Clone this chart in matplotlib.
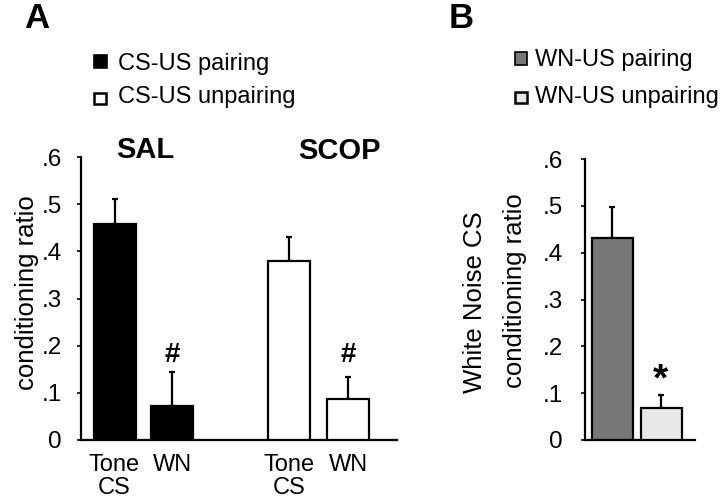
import matplotlib
matplotlib.use("Agg")
import matplotlib.pyplot as plt
from matplotlib.patches import Rectangle

plt.rcParams['font.family'] = ['Liberation Sans', 'DejaVu Sans']

# ---- data ----
a_labels = ["Tone\nCS", "WN", "Tone\nCS", "WN"]
a_values = [0.458, 0.072, 0.379, 0.087]
a_errors = [0.053, 0.072, 0.051, 0.046]
a_groups = ["SAL", "SCOP"]
a_legend = ["CS-US pairing", "CS-US unpairing"]

b_values = [0.431, 0.068]
b_errors = [0.067, 0.028]
b_legend = ["WN-US pairing", "WN-US unpairing"]

yticks = [0, 0.1, 0.2, 0.3, 0.4, 0.5, 0.6]
ytick_labels = ["0", ".1", ".2", ".3", ".4", ".5", ".6"]

W, H = 720, 501
fig = plt.figure(figsize=(7.2, 5.01), dpi=100)

def fx(px):
    return px / W

def fy(py):
    return 1 - py / H

def style_axis(ax, pad):
    for s in ['top', 'right']:
        ax.spines[s].set_visible(False)
    ax.spines['left'].set_linewidth(1.6)
    ax.spines['bottom'].set_linewidth(1.6)
    ax.set_ylim(0, 0.6)
    ax.set_yticks(yticks)
    ax.set_yticklabels(ytick_labels, fontsize=17.5)
    ax.tick_params(axis='y', length=3, width=1.2, pad=pad)
    ax.tick_params(axis='x', length=0, pad=10, labelsize=17)

# ---- Panel A ----
axA = fig.add_axes([fx(81), fy(440), fx(397 - 81), (440 - 157) / H])
posA = [0, 1, 3.04, 4.06]
colorsA = ['black', 'black', 'white', 'white']
axA.bar(posA, a_values, width=0.73, color=colorsA, edgecolor='black', linewidth=1.6, zorder=3)
axA.errorbar(posA, a_values, yerr=[[0] * 4, a_errors], fmt='none', ecolor='black',
             elinewidth=1.6, capsize=2, capthick=1.6, zorder=2)
axA.set_xlim(-0.583, 4.913)
style_axis(axA, 11)
axA.set_xticks(posA)
axA.set_xticklabels(a_labels, linespacing=1.05)
fig.text(fx(172), fy(355), "#", fontsize=20, fontweight='bold', ha='center', va='center')
fig.text(fx(348), fy(355), "#", fontsize=20, fontweight='bold', ha='center', va='center')
fig.text(fx(145), fy(150), a_groups[0], fontsize=21, fontweight='bold', ha='center', va='center')
fig.text(fx(339), fy(151), a_groups[1], fontsize=21, fontweight='bold', ha='center', va='center')
fig.text(fx(27), fy(293), "conditioning ratio", fontsize=18.5, rotation=90, ha='center', va='center')

# Panel A legend
fig.add_artist(Rectangle((fx(94), fy(68)), fx(13), 13 / H, transform=fig.transFigure,
                         facecolor='black', edgecolor='black', linewidth=1.2))
fig.add_artist(Rectangle((fx(94), fy(104)), fx(12), 11 / H, transform=fig.transFigure,
                         facecolor='white', edgecolor='black', linewidth=1.8))
fig.text(fx(118), fy(64), a_legend[0], fontsize=17, ha='left', va='center')
fig.text(fx(118), fy(97), a_legend[1], fontsize=17, ha='left', va='center')
fig.text(fx(24), fy(19), "A", fontsize=25, fontweight='bold', ha='left', va='center')

# ---- Panel B ----
axB = fig.add_axes([fx(585), fy(440), fx(695 - 585), (440 - 159) / H])
posB = [0, 1]
axB.bar(posB, b_values, width=0.84, color=['#777777', '#e8e8e8'], edgecolor='black',
        linewidth=1.6, zorder=3)
axB.errorbar(posB, b_values, yerr=[[0] * 2, b_errors], fmt='none', ecolor='black',
             elinewidth=1.6, capsize=2, capthick=1.6, zorder=2)
axB.set_xlim(-0.561, 1.684)
style_axis(axB, 13)
axB.set_xticks([])
fig.text(fx(660), fy(380), "*", fontsize=28, fontweight='bold', ha='center', va='center')
fig.text(fx(475), fy(302), "White Noise CS", fontsize=18.5, rotation=90, ha='center', va='center')
fig.text(fx(515), fy(291), "conditioning ratio", fontsize=18.5, rotation=90, ha='center', va='center')

fig.add_artist(Rectangle((fx(515), fy(65)), fx(12), 13 / H, transform=fig.transFigure,
                         facecolor='#777777', edgecolor='black', linewidth=1.2))
fig.add_artist(Rectangle((fx(515), fy(103)), fx(12), 11 / H, transform=fig.transFigure,
                         facecolor='#e8e8e8', edgecolor='black', linewidth=1.8))
fig.text(fx(535), fy(60), b_legend[0], fontsize=17, ha='left', va='center')
fig.text(fx(535), fy(97), b_legend[1], fontsize=17, ha='left', va='center')
fig.text(fx(449), fy(19), "B", fontsize=25, fontweight='bold', ha='left', va='center')

fig.savefig("out.png", dpi=100)
